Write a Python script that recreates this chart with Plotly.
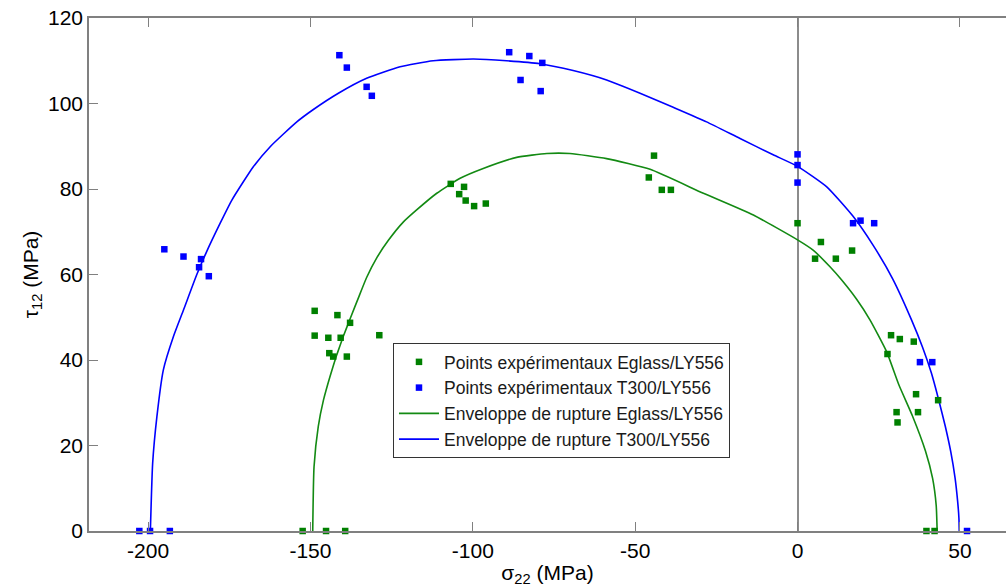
import plotly.graph_objects as go

# Experimental failure points, sigma_22 / tau_12 in MPa
eglass_s22 = [-148.7, -141.7, -137.8, -148.7, -144.5, -140.7, -128.8, -144.2, -143.0, -138.8,
              -152.4, -145.2, -139.3,
              -106.8, -102.7, -104.2, -102.2, -99.6, -96.0,
              -44.2, -45.8, -41.8, -39.0,
              0.0, 7.2, 5.4, 11.8, 16.8,
              28.8, 31.5, 35.8, 27.7, 36.5, 43.3, 30.5, 37.1, 30.8,
              39.7, 42.2]
eglass_t12 = [51.5, 50.5, 48.7, 45.7, 45.2, 45.2, 45.8, 41.6, 40.8, 40.8,
              0.0, 0.0, 0.0,
              81.2, 80.5, 78.8, 77.3, 76.0, 76.6,
              87.8, 82.7, 79.8, 79.8,
              72.0, 67.6, 63.7, 63.7, 65.6,
              45.8, 44.9, 44.3, 41.4, 32.0, 30.6, 27.8, 27.8, 25.4,
              0.0, 0.0]

t300_s22 = [-195.0, -189.1, -183.7, -184.3, -181.3,
            -202.7, -199.4, -193.3,
            -141.1, -138.8, -132.7, -131.1,
            -88.8, -82.6, -78.6, -85.3, -79.1,
            0.0, 0.0, 0.0,
            17.1, 19.4, 23.6,
            37.7, 41.5,
            52.2]
t300_t12 = [65.9, 64.2, 63.6, 61.7, 59.6,
            0.0, 0.0, 0.0,
            111.3, 108.4, 103.9, 101.8,
            112.0, 111.1, 109.5, 105.5, 102.9,
            88.1, 85.6, 81.5,
            72.0, 72.6, 72.0,
            39.5, 39.5,
            0.0]

# Failure envelopes
env_eglass_s22 = [-149.3, -148.9, -147.6, -146.0, -144.0, -141.9, -139.9, -137.6, -135.2,
                  -132.7, -129.5, -126.0, -121.5, -117.3, -111.1, -103.9, -96.8, -86.5,
                  -77.2, -70.1, -58.8, -45.4, -29.0, -13.6, 0.0, 4.8, 10.0, 13.6, 18.2,
                  22.3, 27.4, 31.2, 35.4, 39.4, 41.6, 42.7, 43.0]
env_eglass_t12 = [0.0, 15.0, 24.4, 30.6, 36.1, 41.2, 45.5, 50.0, 54.6,
                  59.3, 64.0, 68.0, 72.2, 75.1, 79.0, 82.5, 84.8, 87.4,
                  88.3, 88.3, 87.1, 84.6, 79.0, 73.9, 68.1, 65.7, 61.8, 58.7, 54.2,
                  49.4, 42.0, 34.2, 26.9, 18.7, 12.3, 6.0, 0.0]

env_t300_s22 = [-199.3, -198.6, -197.3, -195.3, -192.2, -189.1, -185.0, -182.0, -177.8,
                -174.2, -167.6, -162.4, -154.2, -149.1, -141.4, -132.7, -122.4, -112.2,
                -99.8, -89.6, -79.3, -69.1, -58.8, -48.5, -38.3, -28.0, -17.7, -7.5,
                0.0, 9.0, 17.1, 23.3, 29.3, 35.1, 38.5, 41.2, 43.5, 45.5, 47.2, 48.5,
                49.3, 49.7, 49.8]
env_t300_t12 = [0.0, 15.8, 26.7, 37.7, 45.5, 51.7, 60.0, 65.3, 72.0,
                77.4, 85.2, 89.9, 95.7, 98.6, 102.4, 105.9, 108.6, 110.0,
                110.4, 110.0, 109.3, 107.7, 105.5, 102.4, 99.1, 95.7, 91.8, 88.0,
                85.3, 80.5, 73.6, 66.8, 59.0, 49.4, 43.0, 37.0, 30.6, 24.5, 18.5, 12.5,
                7.0, 3.0, 0.0]

x_ticks = [-200, -150, -100, -50, 0, 50]
y_ticks = [0, 20, 40, 60, 80, 100, 120]

GREEN = "#008000"
BLUE = "#0000ff"
AXIS_GRAY = "#808080"
FONT = "Liberation Sans, Arial, sans-serif"

fig = go.Figure()

fig.add_trace(go.Scatter(
    x=env_eglass_s22, y=env_eglass_t12, mode="lines",
    name="Enveloppe de rupture Eglass/LY556", legendrank=3,
    line=dict(color="#138a13", width=1.6, shape="spline", smoothing=0.5),
))
fig.add_trace(go.Scatter(
    x=env_t300_s22, y=env_t300_t12, mode="lines",
    name="Enveloppe de rupture T300/LY556", legendrank=4,
    line=dict(color=BLUE, width=1.6, shape="spline", smoothing=0.5),
))
fig.add_trace(go.Scatter(
    x=eglass_s22, y=eglass_t12, mode="markers",
    name="Points expérimentaux Eglass/LY556", legendrank=1, cliponaxis=False,
    marker=dict(symbol="square", size=6.5, color=GREEN),
))
fig.add_trace(go.Scatter(
    x=t300_s22, y=t300_t12, mode="markers",
    name="Points expérimentaux T300/LY556", legendrank=2, cliponaxis=False,
    marker=dict(symbol="square", size=6.5, color=BLUE),
))

fig.update_layout(
    width=1006, height=588,
    margin=dict(l=89, r=0, t=18, b=57),
    paper_bgcolor="white", plot_bgcolor="white",
    font=dict(family=FONT, size=21, color="#000000"),
    showlegend=True,
    legend=dict(
        x=0.3315, y=0.3665, xanchor="left", yanchor="top",
        bgcolor="white", bordercolor="#333333", borderwidth=1,
        font=dict(family=FONT, size=17.5, color="#1a1a1a"),
        itemwidth=40, tracegroupgap=0,
    ),
    xaxis=dict(
        range=[-218.2, 64.2], tickvals=x_ticks, ticktext=[str(v) for v in x_ticks],
        showgrid=False, zeroline=True, zerolinecolor="#8c8c8c", zerolinewidth=1.5,
        showline=True, linecolor=AXIS_GRAY, linewidth=1.5, mirror="ticks",
        ticks="inside", ticklen=9, tickcolor=AXIS_GRAY, tickwidth=1,
        tickfont=dict(size=21),
        title=dict(text="σ<sub>22</sub> (MPa)", font=dict(size=21), standoff=4),
    ),
    yaxis=dict(
        range=[0, 120], tickvals=y_ticks, ticktext=[str(v) for v in y_ticks],
        showgrid=False, zeroline=False,
        showline=True, linecolor=AXIS_GRAY, linewidth=1.5, mirror=False,
        ticks="inside", ticklen=9, tickcolor=AXIS_GRAY, tickwidth=1,
        tickfont=dict(size=21),
        title=dict(text="τ<sub>12</sub> (MPa)", font=dict(size=21), standoff=4),
    ),
)

fig.write_html("out.html")
